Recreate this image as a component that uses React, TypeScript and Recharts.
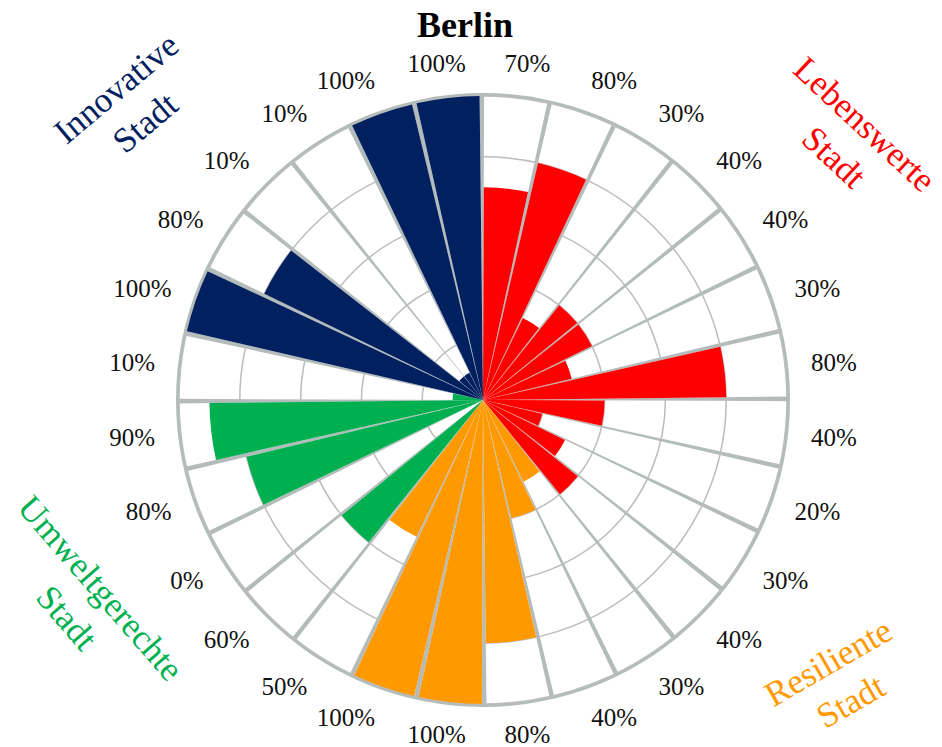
import { RadialBarChart, RadialBar, PolarAngleAxis, PolarRadiusAxis, PolarGrid, Cell } from 'recharts';

// values per sector, clockwise from 12 o'clock, grouped by theme
const LEBENSWERTE = [70, 80, 30, 40, 40, 30, 80, 40, 20, 30, 40];
const RESILIENTE = [30, 40, 80, 100, 100, 50];
const UMWELTGERECHTE = [60, 0, 80, 90, 10];
const INNOVATIVE = [100, 80, 10, 10, 100, 100];

const GROUP_COLORS = {
  lebenswerte: '#ff0000',
  resiliente: '#ff9900',
  umwelt: '#00b050',
  innovative: '#002060',
};

const SERIF = '"Liberation Serif", "Times New Roman", serif';
const RADIAN = Math.PI / 180;
const W = 942;
const H = 747;
const CX = 483;
const CY = 400;
const OUTER = 304;
const MAX = 100;
const SEPARATOR = '#b4bbbb';

const data = [
  ...LEBENSWERTE.map((v) => ({ value: v, color: GROUP_COLORS.lebenswerte })),
  ...RESILIENTE.map((v) => ({ value: v, color: GROUP_COLORS.resiliente })),
  ...UMWELTGERECHTE.map((v) => ({ value: v, color: GROUP_COLORS.umwelt })),
  ...INNOVATIVE.map((v) => ({ value: v, color: GROUP_COLORS.innovative })),
].map((d, i) => ({ ...d, key: `s${i}` }));

const valueByKey: Record<string, number> = Object.fromEntries(data.map((d) => [d.key, d.value]));

// recharts lays the first band counter-clockwise of startAngle, so start one band later
const BAND = 360 / data.length;
const START = 90 - BAND;
const END = START - 360;

function PercentTick(props: any) {
  const { cx, cy, radius, payload } = props;
  const label = `${valueByKey[payload.value]}%`;
  const deg = payload.coordinate + BAND / 2;
  const dx = Math.cos(deg * RADIAN);
  const dy = -Math.sin(deg * RADIAN);
  const r = radius + 26;
  let x = cx + r * dx;
  const ay = cy + r * dy;
  const fontSize = 25;
  const w = (label.length - 1) * 0.5 * fontSize + 0.833 * fontSize;
  const h = 17;
  const fromNorth = (((90 - deg) % 360) + 360) % 360;
  let anchor: 'start' | 'middle' | 'end' = 'middle';
  if (fromNorth > 20 && fromNorth < 160) anchor = 'start';
  else if (fromNorth > 200 && fromNorth < 340) anchor = 'end';
  else {
    let t = 0;
    if (fromNorth <= 20) t = fromNorth / 20;
    else if (fromNorth >= 340) t = (fromNorth - 360) / 20;
    else t = (180 - fromNorth) / 20;
    x += (w / 2) * t;
  }
  const centerY = ay + Math.sign(dy) * Math.abs(dy) * (h / 2);
  return (
    <text
      x={x}
      y={centerY + h / 2 - (dy > 0.9 ? 2 : 0)}
      textAnchor={anchor}
      fontSize={fontSize}
      fill="#111"
      style={{ fontFamily: SERIF }}
    >
      {label}
    </text>
  );
}

function GroupLabel({ x, y, angle, color, lines }: { x: number; y: number; angle: number; color: string; lines: string[] }) {
  return (
    <g transform={`translate(${x},${y}) rotate(${angle})`}>
      {lines.map((line, i) => (
        <text key={line} x={0} y={i * 45 + 12} textAnchor="middle" fontSize={35} fill={color} style={{ fontFamily: SERIF }}>
          {line}
        </text>
      ))}
    </g>
  );
}

const chartProps = {
  width: W,
  height: H,
  data,
  layout: 'centric' as const,
  cx: CX,
  cy: CY,
  innerRadius: 0,
  outerRadius: OUTER,
  startAngle: START,
  endAngle: END,
  barCategoryGap: '5%',
  barGap: 0,
  margin: { top: 0, right: 0, bottom: 0, left: 0 },
};

const layer: React.CSSProperties = { position: 'absolute', left: 0, top: 0 };

export default function App() {
  return (
    <div style={{ position: 'absolute', left: 0, top: 0, width: W, height: H, background: '#fff' }}>
      {/* gray disc that shows through as separators and outer rim */}
      <svg width={W} height={H} style={layer}>
        <circle cx={CX} cy={CY} r={OUTER + 3} fill={SEPARATOR} />
      </svg>
      {/* white sector backgrounds */}
      <div style={layer}>
        <RadialBarChart {...chartProps}>
          <PolarAngleAxis type="category" dataKey="key" tick={false} tickLine={false} axisLine={false} />
          <PolarRadiusAxis type="number" domain={[0, MAX]} tick={false} axisLine={false} />
          <RadialBar dataKey={() => MAX} fill="#ffffff" isAnimationActive={false} />
        </RadialBarChart>
      </div>
      {/* grid, values and labels */}
      <div style={layer}>
        <RadialBarChart {...chartProps}>
          <PolarGrid gridType="circle" radialLines={false} stroke="#bcbcbc" strokeWidth={1.5} />
          <PolarAngleAxis type="category" dataKey="key" tick={PercentTick} tickLine={false} axisLine={false} />
          <PolarRadiusAxis type="number" domain={[0, MAX]} tickCount={6} tick={false} axisLine={false} />
          <RadialBar dataKey="value" isAnimationActive={false}>
            {data.map((d) => (
              <Cell key={d.key} fill={d.color} />
            ))}
          </RadialBar>
        </RadialBarChart>
      </div>
      <svg width={W} height={H} style={{ ...layer, pointerEvents: 'none' }}>
        <text x={465} y={37} textAnchor="middle" fontSize={36} fontWeight="bold" fill="#000" style={{ fontFamily: SERIF }}>
          Berlin
        </text>
        <GroupLabel x={116} y={88} angle={-40} color={GROUP_COLORS.innovative} lines={['Innovative', 'Stadt']} />
        <GroupLabel x={865} y={124} angle={43} color={GROUP_COLORS.lebenswerte} lines={['Lebenswerte', 'Stadt']} />
        <GroupLabel x={101} y={588} angle={49} color={GROUP_COLORS.umwelt} lines={['Umweltgerechte', 'Stadt']} />
        <GroupLabel x={828} y={662} angle={-30} color={GROUP_COLORS.resiliente} lines={['Resiliente', 'Stadt']} />
      </svg>
    </div>
  );
}
